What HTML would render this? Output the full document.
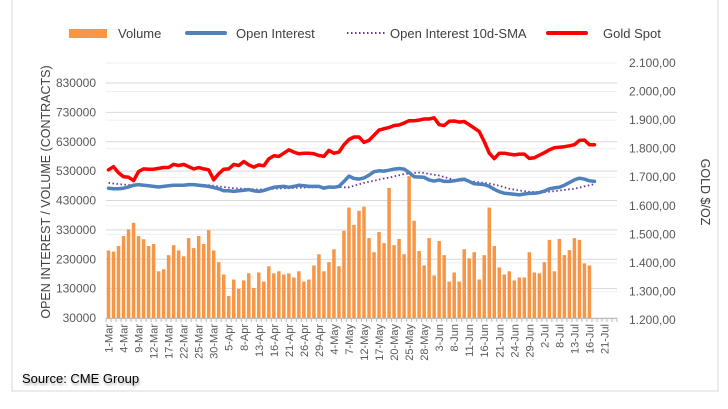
<!DOCTYPE html>
<html><head><meta charset="utf-8"><style>
html,body{margin:0;padding:0;background:#fff;}
svg{display:block;font-family:"Liberation Sans",sans-serif;}
</style></head><body>
<svg id="chart" width="728" height="409" viewBox="0 0 728 409" xmlns="http://www.w3.org/2000/svg">
<rect x="12" y="-2" width="706" height="393" fill="#fff" stroke="#d9d9d9"/>
<g id="legend" font-size="13" fill="#404040">
  <g><rect x="69" y="29" width="38" height="9" fill="#f79646"/><text x="118" y="38">Volume</text></g>
  <g><line x1="187" y1="33" x2="225" y2="33" stroke="#4f81bd" stroke-width="4" stroke-linecap="round"/><text x="236" y="38">Open Interest</text></g>
  <g><line x1="347" y1="33" x2="385" y2="33" stroke="#7030a0" stroke-width="2" stroke-dasharray="1.5 2.5"/><text x="390" y="38">Open Interest 10d-SMA</text></g>
  <g><line x1="548" y1="33" x2="586" y2="33" stroke="#ff0000" stroke-width="4" stroke-linecap="round"/><text x="603" y="38">Gold Spot</text></g>
</g>
<g id="grid"></g>
<g id="bars"></g>
<g id="lines"></g>
<g id="axes"></g>
<text transform="translate(50,192) rotate(-90)" text-anchor="middle" font-size="12.5" fill="#404040">OPEN INTEREST / VOLUME (CONTRACTS)</text>
<text transform="translate(701,192) rotate(90)" text-anchor="middle" font-size="12.5" fill="#404040">GOLD $/OZ</text>
<text x="22" y="383" font-size="13" fill="#000" style="text-shadow:1px 2px 2px rgba(0,0,0,0.35)">Source: CME Group</text>
</svg>
<script>
const dates = ["1-Mar","4-Mar","9-Mar","12-Mar","17-Mar","22-Mar","25-Mar","30-Mar","5-Apr","8-Apr","13-Apr","16-Apr","21-Apr","26-Apr","29-Apr","4-May","7-May","12-May","17-May","20-May","25-May","28-May","3-Jun","8-Jun","11-Jun","16-Jun","21-Jun","24-Jun","29-Jun","2-Jul","8-Jul","13-Jul","16-Jul","21-Jul"];
const leftTicks = [30000,130000,230000,330000,430000,530000,630000,730000,830000];
const rightTicks = ["1.200,00","1.300,00","1.400,00","1.500,00","1.600,00","1.700,00","1.800,00","1.900,00","2.000,00","2.100,00"];
const rightTickValues = [1200,1300,1400,1500,1600,1700,1800,1900,2000,2100];
const volume = [260,256,275,309,332,354,309,298,275,282,189,196,244,278,260,240,302,268,309,282,329,260,220,178,105,161,129,158,182,132,185,154,206,182,189,178,182,168,189,154,161,209,247,189,220,264,206,327,406,347,395,409,302,254,323,285,473,278,299,247,513,361,258,209,302,175,292,244,154,185,154,264,233,254,161,244,406,275,202,178,189,158,168,168,254,185,182,220,296,189,299,244,261,302,296,216,209];
const openInterest = [472,470,470,472,476,482,484,482,480,478,476,478,480,482,482,482,484,484,482,480,478,474,470,463,463,461,463,465,467,463,461,464,470,475,477,478,475,478,482,480,478,478,478,472,476,475,478,495,513,505,503,507,516,528,531,530,533,537,539,537,525,511,510,509,500,496,500,495,495,497,500,502,495,487,486,484,478,468,460,455,453,451,449,452,454,455,457,462,470,473,475,482,491,500,506,503,497,495];
const oiSma = [490,488,486,484,483,482,481,480,479,478,478,479,480,480,481,481,482,482,482,482,482,480,478,476,474,472,471,470,469,468,467,468,469,470,471,472,472,473,474,474,475,475,476,476,476,476,476,475,475,480,485,490,494,497,501,505,508,512,516,520,522,524,525,524,520,518,515,510,505,500,498,497,495,494,492,490,488,484,480,475,470,467,464,462,460,459,459,459,460,462,464,466,468,470,474,478,482,486];
const gold = [1726,1737,1716,1702,1700,1688,1720,1729,1728,1728,1731,1734,1734,1745,1741,1745,1737,1729,1734,1729,1726,1691,1712,1728,1729,1745,1741,1755,1743,1735,1743,1740,1764,1775,1773,1784,1796,1788,1782,1784,1784,1782,1776,1773,1794,1784,1788,1814,1832,1841,1841,1822,1829,1847,1865,1870,1874,1881,1883,1890,1898,1898,1900,1904,1904,1908,1884,1881,1896,1897,1893,1895,1884,1872,1860,1825,1784,1765,1784,1784,1781,1778,1781,1781,1766,1768,1777,1786,1796,1803,1805,1807,1810,1814,1829,1830,1814,1814];

const NS="http://www.w3.org/2000/svg";
const X0=106, X1=617, NCAT=102, STEP=(X1-X0)/NCAT;
const YB=318, YT=83;
function xc(i){return X0+STEP*(i+0.5);}
function yL(k){return YB-(k*1000-30000)/800000*(YB-YT);}       // k in thousands
function yLv(v){return YB-(v-30000)/800000*(YB-YT);}
const RB=320, RT=63;
function yR(v){return RB-(v-1200)/900*(RB-RT);}
function mk(tag,attrs,parent){const e=document.createElementNS(NS,tag);for(const k in attrs)e.setAttribute(k,attrs[k]);parent.appendChild(e);return e;}

const grid=document.getElementById('grid');
rightTickValues.forEach(v=>{
  const l=mk('line',{x1:X0,x2:X1,y1:yR(v),y2:yR(v),stroke:'#efefef','stroke-width':1},grid);
  
  
});
leftTicks.forEach(v=>{
  const l=mk('line',{x1:X0,x2:X1,y1:yLv(v),y2:yLv(v),stroke:'#d9d9d9','stroke-width':1},grid);
  
  
});

const bars=document.getElementById('bars');
volume.forEach((v,i)=>{
  const y=yL(v);
  const r=mk('rect',{x:xc(i)-1.75,y:y,width:3.5,height:YB-y,fill:'#f79646'},bars);
  
  
});

const lines=document.getElementById('lines');
function path(arr,fy){return arr.map((v,i)=>(i?'L':'M')+xc(i).toFixed(1)+','+fy(v).toFixed(1)).join('');}
const p1=mk('path',{d:path(oiSma,yL),fill:'none',stroke:'#7030a0','stroke-width':1.8,'stroke-dasharray':'1.5 2.5'},lines);


const p2=mk('path',{d:path(openInterest,yL),fill:'none',stroke:'#4f81bd','stroke-width':3.5,'stroke-linejoin':'round','stroke-linecap':'round'},lines);


const p3=mk('path',{d:path(gold,yR),fill:'none',stroke:'#ff0000','stroke-width':3.5,'stroke-linejoin':'round','stroke-linecap':'round'},lines);



const axes=document.getElementById('axes');
const xa=mk('line',{x1:X0,x2:X1,y1:YB+0.5,y2:YB+0.5,stroke:'#bfbfbf'},axes);


for(let i=0;i<=NCAT;i++){
  const x=X0+STEP*i;
  const t=mk('line',{x1:x,x2:x,y1:YB,y2:YB+4,stroke:'#bfbfbf'},axes);
  
  
}
dates.forEach((d,j)=>{
  const x=xc(j*3)+4;
  const t=mk('text',{transform:`translate(${x},${YB+6}) rotate(-90)`,'text-anchor':'end','font-size':11,fill:'#595959'},axes);
  t.textContent=d;
  
  
});
leftTicks.forEach(v=>{
  const t=mk('text',{x:96,y:yLv(v)+4,'text-anchor':'end','font-size':12,fill:'#595959'},axes);
  t.textContent=String(v);
  
  
});
rightTicks.forEach((s,i)=>{
  const t=mk('text',{x:629,y:yR(rightTickValues[i])+4,'font-size':12,fill:'#595959'},axes);
  t.textContent=s;
  
  
});
</script>
</body></html>
